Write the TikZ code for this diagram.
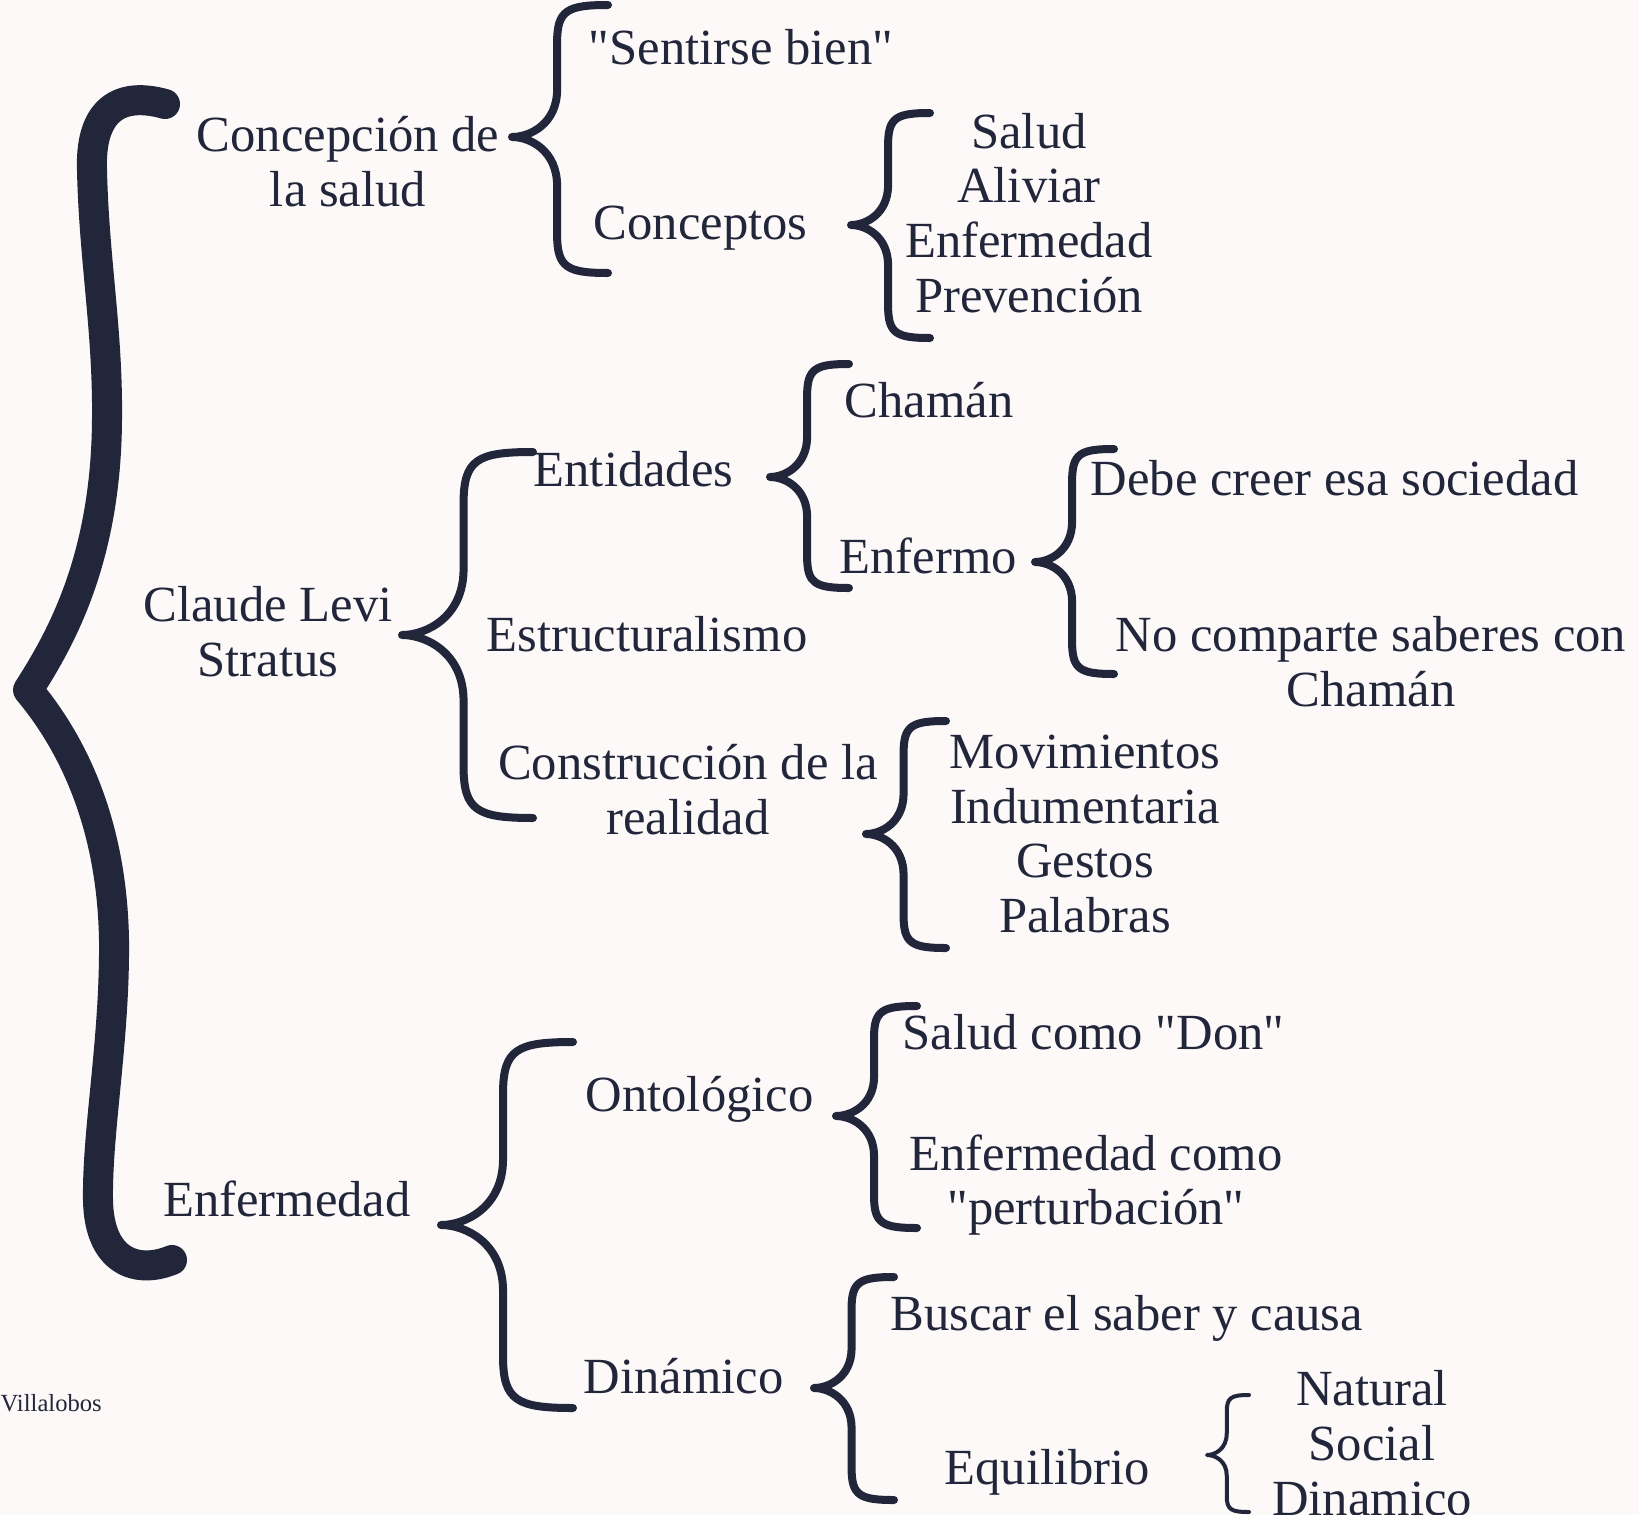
\documentclass[tikz,border=0pt]{standalone}
\usepackage{fontspec}
\setmainfont{Liberation Serif}
\definecolor{ink}{HTML}{21263A}
\definecolor{paper}{HTML}{FCF9F8}
% curly brace: [style] {tip x}{tip y}{top y}{bottom y}{end x}
\newcommand{\curlybrace}[6][]{%
  \pgfmathsetmacro{\bax}{#2+0.47*(#6-#2)}%
  \pgfmathsetmacro{\bup}{#3-#4}%
  \pgfmathsetmacro{\blo}{#5-#3}%
  \pgfmathsetmacro{\bw}{#6-\bax}%
  \draw[curly,#1] (#6,#4)
    .. controls ({\bax+0.2*\bw},#4) and (\bax,{#4+0.04*\bup}) .. (\bax,{#4+0.28*\bup})
    -- (\bax,{#3-0.36*\bup})
    .. controls (\bax,{#3-0.1*\bup}) and ({#2+0.4*(\bax-#2)},#3) .. (#2,#3)
    .. controls ({#2+0.4*(\bax-#2)},#3) and (\bax,{#3+0.1*\blo}) .. (\bax,{#3+0.36*\blo})
    -- (\bax,{#5-0.28*\blo})
    .. controls (\bax,{#5-0.04*\blo}) and ({\bax+0.2*\bw},#5) .. (#6,#5);
}

\begin{document}
\begin{tikzpicture}[x=0.01cm, y=-0.01cm,
    txt/.style={font=\fontsize{14.4pt}{15.6pt}\selectfont, text=ink, inner sep=0pt, align=center},
    curly/.style={draw=ink, line width=0.08cm, line cap=round, line join=round}]
    % Page
    \fill[paper] (0,0) rectangle (1639,1515);
    \useasboundingbox (0,0) rectangle (1639,1515);

    % Big brace
    \draw[ink, line width=0.3cm, line cap=round, line join=round] (165,104)
        .. controls (115,90) and (90,115) .. (92,170)
        .. controls (94,260) and (108,330) .. (107,420)
        .. controls (106,560) and (60,640) .. (28,690)
        .. controls (70,740) and (112,820) .. (114,940)
        .. controls (115,1040) and (97,1130) .. (98,1200)
        .. controls (99,1260) and (135,1275) .. (172,1260);

    % First level
    \node[txt] (concepcion) at (348,162) {Concepción de\\la salud};
    \node[txt] (claude) at (268,632) {Claude Levi\\Stratus};
    \node[txt] (enfermedad) at (287,1199) {Enfermedad};

    % Concepcion de la salud
    \curlybrace{512}{137}{5}{273}{608}
    \node[txt, anchor=west] (sentirse) at (588,47) {\textquotedbl Sentirse bien\textquotedbl};
    \node[txt, anchor=west] (conceptos) at (593,228) {Conceptos};
    \curlybrace{851}{225}{113}{338}{930}
    \node[txt] (lista) at (1029,213) {Salud\\Aliviar\\Enfermedad\\Prevención};

    % Claude Levi Stratus
    \curlybrace{402}{635}{452}{818}{533}
    \node[txt, anchor=west] (entidades) at (533,469) {Entidades};
    \node[txt, anchor=west] (estructuralismo) at (486,634) {Estructuralismo};
    \node[txt] (construccion) at (688,790) {Construcción de la\\realidad};
    \curlybrace{770}{477}{364}{588}{849}
    \node[txt, anchor=west] (chaman) at (844,400) {Chamán};
    \node[txt, anchor=west] (enfermo) at (839,556) {Enfermo};
    \curlybrace{1035}{562}{449}{674}{1114}
    \node[txt, anchor=west] (debe) at (1090,478) {Debe creer esa sociedad};
    \node[txt] (comparte) at (1371,662) {No comparte saberes con\\Chamán};
    \curlybrace{866}{834}{721}{948}{946}
    \node[txt] (gestos) at (1085,834) {Movimientos\\Indumentaria\\Gestos\\Palabras};

    % Enfermedad
    \curlybrace{441}{1225}{1042}{1408}{573}
    \node[txt, anchor=west] (ontologico) at (585,1099) {Ontológico};
    \node[txt, anchor=west] (dinamico) at (583,1376) {Dinámico};
    \curlybrace{836}{1116}{1006}{1228}{917}
    \node[txt, anchor=west] (don) at (902,1032) {Salud como \textquotedbl Don\textquotedbl};
    \node[txt] (perturbacion) at (1096,1185) {Enfermedad como\\\textquotedbl perturbación\textquotedbl};
    \curlybrace{814}{1388}{1277}{1500}{894}
    \node[txt, anchor=west] (buscar) at (890,1318) {Buscar el saber y causa};
    \node[txt, anchor=west] (equilibrio) at (944,1472) {Equilibrio};
    \curlybrace[line width=0.04cm]{1207}{1455}{1395}{1512}{1249}
    \node[txt] (tipos) at (1372,1443) {Natural\\Social\\Dinamico};

    % Signature
    \node[txt, anchor=west, font=\fontsize{7pt}{8pt}\selectfont] (firma) at (0,1403) {Villalobos};
\end{tikzpicture}
\end{document}
